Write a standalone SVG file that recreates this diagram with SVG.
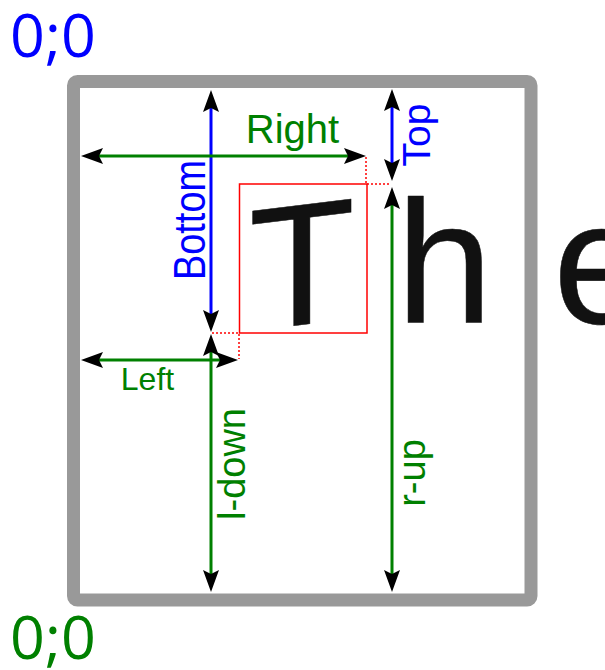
<svg xmlns="http://www.w3.org/2000/svg" width="605" height="670" viewBox="0 0 605 670">
<style>
.lbl{font-family:"Liberation Sans",Arial,sans-serif;}
.blue{fill:#0000ff;}
.green{fill:#008000;}
.coord{font-family:"Open Sans","DejaVu Sans",sans-serif;font-size:61px;}
.hand{font-family:"Liberation Sans",Arial,sans-serif;font-size:174px;fill:#111;stroke:#111;stroke-width:0.5;stroke-linejoin:round;}
.bl{stroke:#0000ff;stroke-width:3;fill:none;}
.gl{stroke:#008000;stroke-width:3;fill:none;}
.dot{stroke:#ff0000;stroke-width:1.5;stroke-dasharray:2,2;fill:none;}
</style>
<defs>
<marker id="ah" markerWidth="30" markerHeight="20" viewBox="0 -10 30 20" refX="16" refY="0" orient="auto-start-reverse" markerUnits="userSpaceOnUse">
<path d="M22,0 L0,-8 L4,0 L0,8 Z" fill="#000"/>
</marker>
</defs>
<rect width="605" height="670" fill="#fff"/>

<g id="frame">
<rect x="73.5" y="81.5" width="457.5" height="518.5" rx="4" fill="none" stroke="#999999" stroke-width="13"/>
</g>

<g id="letters">
<text class="hand" x="302" y="325" text-anchor="middle" transform="translate(300,0) skewY(-7) translate(-300,0)">T</text>
<text class="hand" x="396" y="323">h</text>
<text class="hand" x="553" y="323">e</text>
</g>

<g id="bbox">
<rect x="239.5" y="184" width="127.5" height="149" fill="none" stroke="#ff0000" stroke-width="1.5"/>
</g>

<g id="connectors">
<path class="dot" d="M366,157 V184"/>
<path class="dot" d="M367,184 H391"/>
<path class="dot" d="M212,333 H239"/>
<path class="dot" d="M239,334 V359"/>
<line class="bl" x1="211" y1="96" x2="211" y2="326" marker-start="url(#ah)" marker-end="url(#ah)"/>
<line class="bl" x1="392" y1="95" x2="392" y2="175" marker-start="url(#ah)" marker-end="url(#ah)"/>
<line class="gl" x1="87" y1="156" x2="360" y2="156" marker-start="url(#ah)" marker-end="url(#ah)"/>
<line class="gl" x1="87" y1="360" x2="232" y2="360" marker-start="url(#ah)" marker-end="url(#ah)"/>
<line class="gl" x1="211" y1="340" x2="211" y2="586" marker-start="url(#ah)" marker-end="url(#ah)"/>
<line class="gl" x1="392" y1="193" x2="392" y2="586" marker-start="url(#ah)" marker-end="url(#ah)"/>
</g>

<g id="label-right"><text class="lbl green" x="292.5" y="143" font-size="40" text-anchor="middle">Right</text></g>
<g id="label-left"><text class="lbl green" x="147.5" y="390" font-size="32" text-anchor="middle">Left</text></g>
<g id="label-bottom"><text class="lbl blue" font-size="44" text-anchor="middle" textLength="120" lengthAdjust="spacingAndGlyphs" transform="translate(205,220) rotate(-90)">Bottom</text></g>
<g id="label-top"><text class="lbl blue" font-size="39" text-anchor="middle" transform="translate(430,135) rotate(-90)">Top</text></g>
<g id="label-ldown"><text class="lbl green" font-size="38" text-anchor="middle" transform="translate(245,464) rotate(-90)">l-down</text></g>
<g id="label-rup"><text class="lbl green" font-size="38" text-anchor="middle" transform="translate(425,473) rotate(-90)">r-up</text></g>

<g id="origin-top"><text class="coord blue" x="10" y="57">0;0</text></g>
<g id="origin-bottom"><text class="coord green" x="10" y="659">0;0</text></g>
</svg>
